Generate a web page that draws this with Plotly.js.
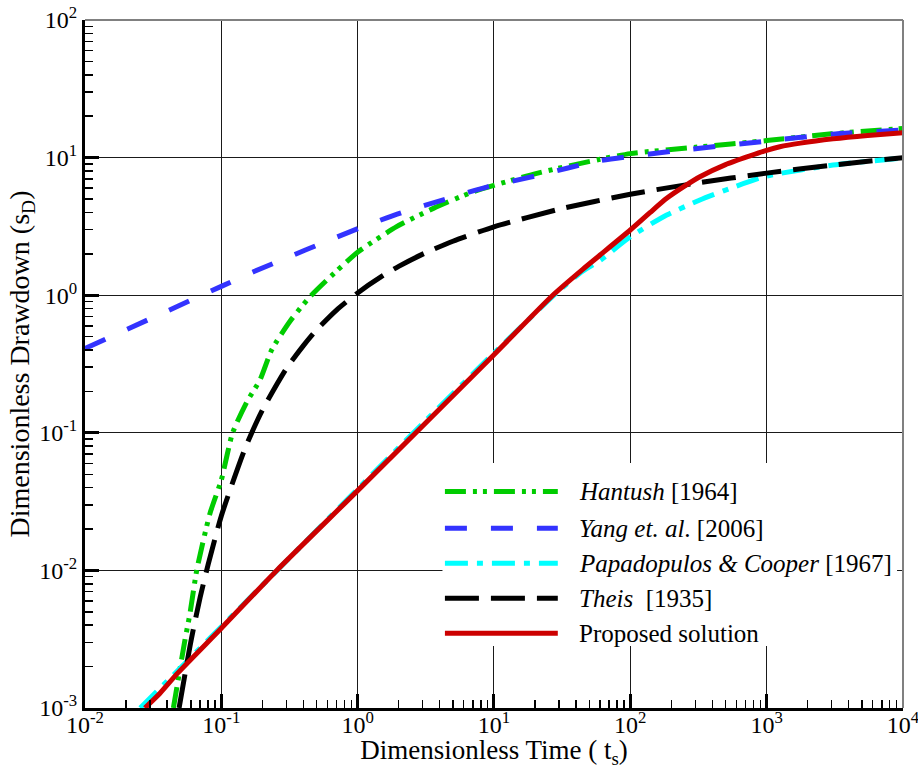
<!DOCTYPE html>
<html>
<head>
<meta charset="utf-8">
<script src="https://cdn.plot.ly/plotly-3.0.1.min.js"></script>
<style>html,body{margin:0;padding:0;background:#fff;}#chart{width:918px;height:769px;}</style>
</head>
<body>
<div id="chart"></div>
<script>
// Hantush [1964]
const hantushT = [0.0445,0.0541,0.0589,0.066,0.0826,0.1,0.121,0.155,0.192,0.234,0.32,0.447,0.7,1.01,1.93,3.59,7.05,20.6,60,100,300,1000,3000,10000];
const hantushS = [0.001,0.00312,0.00487,0.01,0.026,0.0454,0.1,0.17,0.242,0.40,0.65,0.975,1.5,2.07,3.15,4.28,5.65,7.69,9.73,10.7,11.9,13.3,14.9,16.3];
// Yang et al. [2006]
const yangT = [0.01,0.1,0.172,1.01,2.1,4.37,9.08,20,60,200,1000,3000,10000];
const yangS = [0.41,1.16,1.48,3.06,3.98,4.98,6.15,7.35,9.5,11.1,13.2,14.8,15.9];
// Papadopulos & Cooper [1967]
const papT = [0.0254,0.05,0.1,0.3,1,3,10,30,45,60,100,185,324,566,1000,3070,10000];
const papS = [0.001,0.00195,0.0039,0.0117,0.039,0.117,0.38,1.08,1.5,1.79,2.66,3.83,4.92,6.08,7.35,8.83,9.95];
// Theis [1935]
const theisT = [0.049,0.06,0.07,0.08,0.1,0.15,0.2,0.3,0.4,0.5,0.7,1,1.5,2,3,5,10,30,100,300,1000,3000,10000];
const theisS = [0.001,0.0031,0.0064,0.011,0.0249,0.078,0.146,0.293,0.43,0.56,0.78,1.04,1.37,1.62,1.99,2.47,3.14,4.22,5.42,6.51,7.72,8.81,10.0];
// Proposed solution
const propT = [0.0275,0.0355,0.048,0.1,0.255,1,10,27,45,60,100,140,185,250,324,500,755,1000,1250,1770,3070,5500,10000];
const propS = [0.001,0.00128,0.0018,0.0038,0.01,0.038,0.37,1.0,1.55,1.96,2.98,4.0,5.06,6.2,7.26,8.9,10.3,11.3,12.0,12.75,13.7,14.5,15.2];

const xTickVals = [0.01,0.1,1,10,100,1000,10000];
const xTickText = ['10<sup>-2</sup>','10<sup>-1</sup>','10<sup>0</sup>','10<sup>1</sup>','10<sup>2</sup>','10<sup>3</sup>','10<sup>4</sup>'];
const yTickVals = [0.001,0.01,0.1,1,10,100];
const yTickText = ['10<sup>-3</sup>','10<sup>-2</sup>','10<sup>-1</sup>','10<sup>0</sup>','10<sup>1</sup>','10<sup>2</sup>'];

const seriesNames = ['<i>Hantush</i> [1964]','<i>Yang et. al</i>. [2006]','<i>Papadopulos &amp; Cooper</i> [1967]','<i>Theis</i>  [1935]','Proposed solution'];
const seriesColors = ['#00cc00','#3333ff','#00ffff','#000000','#cc0000'];
const seriesDash = ['21px,7px,4px,6px,4px,7px','22px,24px','23px,9px,6px,9px','34px,12px','solid'];
const seriesX = [hantushT,yangT,papT,theisT,propT];
const seriesY = [hantushS,yangS,papS,theisS,propS];

const FONT = '"Liberation Serif", "Times New Roman", Times, serif';

const traces = seriesX.map((x,i)=>({
  x: x, y: seriesY[i], mode:'lines', type:'scatter', name: seriesNames[i],
  line:{color:seriesColors[i], width:5, dash:seriesDash[i], shape:'spline', smoothing:0.6}, showlegend:false
}));

// manual legend
const legendRowsY = [0.3145,0.2613,0.2104,0.1595,0.1086];
const shapes = [
  {type:'rect', xref:'paper', yref:'paper', x0:0.437, x1:0.9927, y0:0.090, y1:0.356, fillcolor:'#ffffff', line:{width:0}, layer:'above'},
  {type:'line', xref:'paper', yref:'paper', x0:0, x1:1, y0:1, y1:1, line:{color:'#808080', width:2}, layer:'above'},
  {type:'line', xref:'paper', yref:'paper', x0:1, x1:1, y0:0, y1:1, line:{color:'#808080', width:2}, layer:'above'}
];
const annotations = [];
seriesNames.forEach((n,i)=>{
  shapes.push({type:'line', xref:'paper', yref:'paper', x0:0.440, x1:0.578, y0:legendRowsY[i], y1:legendRowsY[i],
    line:{color:seriesColors[i], width:5, dash:seriesDash[i]}, layer:'above'});
  annotations.push({xref:'paper', yref:'paper', x:0.602, y:legendRowsY[i], xanchor:'left', yanchor:'middle',
    text:n, showarrow:false, font:{family:FONT, size:25, color:'#000'}});
});

const axisCommon = {
  type:'log', tickmode:'array', showgrid:true, gridcolor:'#1a1a1a', gridwidth:1,
  ticks:'inside', ticklen:14, tickwidth:3, tickcolor:'#000',
  showline:true, linecolor:'#000', linewidth:3, mirror:false, zeroline:false,
  ticklabeloverflow:'allow',
  tickfont:{family:FONT, size:24, color:'#000'},
  minor:{dtick:'D1', ticks:'inside', ticklen:8, tickwidth:1.5, tickcolor:'#000', showgrid:false}
};

const layout = {
  width:918, height:769,
  margin:{l:85, r:15, t:20, b:61},
  paper_bgcolor:'#fff', plot_bgcolor:'#fff',
  font:{family:FONT, color:'#000'},
  xaxis: Object.assign({}, axisCommon, {range:[-2,4.0005], tickvals:xTickVals, ticktext:xTickText, ticklabelstandoff:-7,
    title:{text:'Dimensionless Time ( t<sub>s</sub>)', font:{family:FONT, size:27, color:'#000'}, standoff:0}}),
  yaxis: Object.assign({}, axisCommon, {range:[-3,2.0005], tickvals:yTickVals, ticktext:yTickText,
    title:{text:'Dimensionless Drawdown (s<sub>D</sub>)', font:{family:FONT, size:28, color:'#000'}, standoff:0}}),
  shapes: shapes,
  annotations: annotations,
  showlegend:false
};

Plotly.newPlot('chart', traces, layout, {displayModeBar:false, staticPlot:true});
</script>
</body>
</html>
